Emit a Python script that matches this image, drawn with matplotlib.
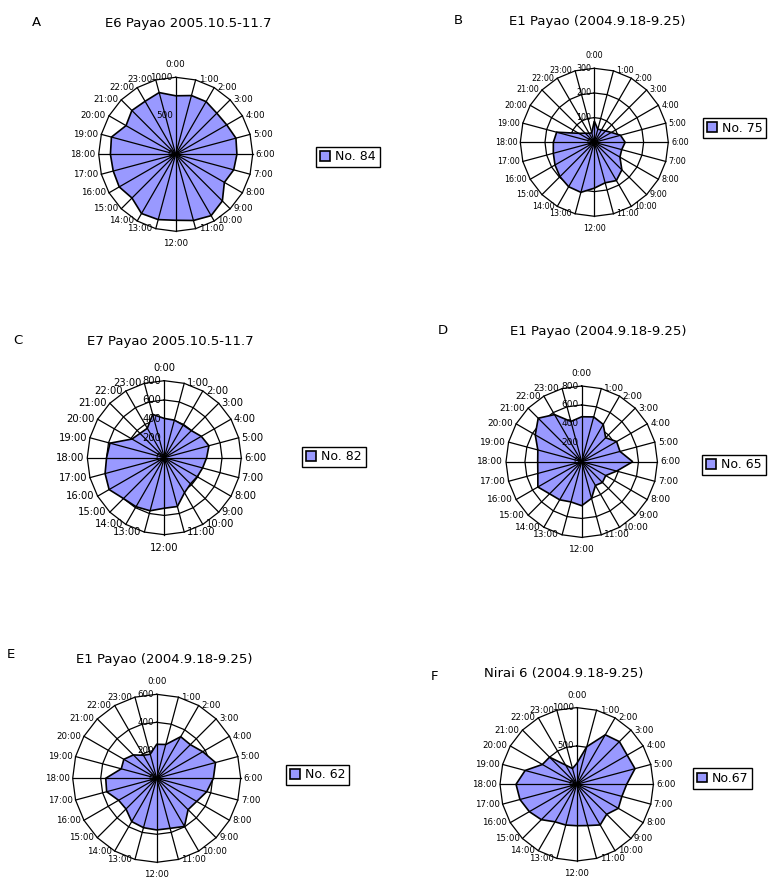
import numpy as np
import matplotlib
matplotlib.use("Agg")
import matplotlib.pyplot as plt

plt.rcParams['font.family'] = ['DejaVu Sans']

hours = [f"{h}:00" for h in range(24)]

# hourly values (0:00 .. 23:00)
a_vals = [760, 790, 790, 755, 765, 810, 795, 780, 730, 857, 920, 890,
          857, 878, 888, 803, 847, 840, 848, 864, 745, 805, 795, 830]
b_vals = [86, 55, 58, 65, 80, 110, 125, 115, 120, 158, 179, 170,
          186, 210, 208, 197, 184, 172, 166, 158, 73, 52, 42, 40]
c_vals = [408, 404, 392, 398, 444, 480, 440, 412, 395, 385, 420, 525,
          525, 571, 588, 600, 662, 637, 600, 584, 388, 357, 353, 466]
d_vals = [475, 490, 455, 358, 426, 419, 539, 383, 293, 310, 290, 401,
          465, 440, 465, 480, 535, 480, 465, 480, 567, 650, 575, 440]
e_vals = [243, 250, 343, 340, 380, 435, 405, 370, 330, 317, 397, 370,
          369, 365, 357, 310, 314, 370, 364, 262, 271, 236, 190, 178]
f_vals = [270, 508, 745, 787, 760, 787, 652, 610, 627, 553, 612, 557,
          540, 550, 565, 652, 713, 766, 791, 696, 517, 500, 290, 213]

letters = ["A", "B", "C", "D", "E", "F"]
titles = ["E6 Payao 2005.10.5-11.7", "E1 Payao (2004.9.18-9.25)",
          "E7 Payao 2005.10.5-11.7", "E1 Payao (2004.9.18-9.25)",
          "E1 Payao (2004.9.18-9.25)", "Nirai 6 (2004.9.18-9.25)"]
legend_labels = ["No. 84", "No. 75", "No. 82", "No. 65", "No. 62", "No.67"]

W, H = 772, 889
fig = plt.figure(figsize=(W / 100, H / 100), dpi=100)


def radar(cx, cy, rad, vals, rmax, step, label, fs, lx, ly):
    ax = fig.add_axes([(cx - rad) / W, 1 - (cy + rad) / H, 2 * rad / W, 2 * rad / H],
                      projection='polar')
    ax.set_theta_zero_location('N')
    ax.set_theta_direction(-1)
    ax.set_ylim(0, rmax)
    ax.grid(False)
    ax.set_xticks([])
    ax.set_yticks([])
    ax.spines['polar'].set_visible(False)
    ax.patch.set_visible(False)

    theta = np.arange(24) * 2 * np.pi / 24
    tc = np.append(theta, theta[0])
    for r in np.arange(step, rmax + step / 2, step):
        ax.plot(tc, [r] * 25, color='black', lw=0.9, zorder=1, clip_on=False)
    v = np.append(vals, vals[0])
    ax.fill(tc, v, facecolor='#9999ff', edgecolor='black', lw=1.2, zorder=2, label=label)
    for t in theta:
        ax.plot([t, t], [0, rmax], color='black', lw=0.9, zorder=3, clip_on=False)

    for t, h in zip(theta, hours):
        s, c = np.sin(t), np.cos(t)
        if abs(s) < 0.05:
            ha, va, off = 'center', ('bottom' if c > 0 else 'top'), (0, 8 * np.sign(c))
        else:
            ha, va, off = ('left' if s > 0 else 'right'), 'center', (3 * np.sign(s), 0)
        ax.annotate(h, (t, rmax), xytext=off, textcoords='offset pixels',
                    ha=ha, va=va, fontsize=fs, annotation_clip=False)
    for r in np.arange(0, rmax + step / 2, step):
        ax.annotate(f"{r:g}", (0, r), xytext=(-3, 0), textcoords='offset pixels',
                    ha='right', va='center', fontsize=fs, zorder=5, annotation_clip=False)

    leg = ax.legend(loc='center', bbox_to_anchor=(lx / W, 1 - ly / H),
                    bbox_transform=fig.transFigure, fancybox=False, edgecolor='black',
                    framealpha=1, handlelength=0.8, handleheight=0.8,
                    handletextpad=0.4, borderpad=0.3, fontsize=9)
    leg.get_frame().set_linewidth(1.0)
    return ax


radar(175.7, 154.3, 77, a_vals, 1000, 500, legend_labels[0], 6.3, 348, 157)
radar(594.3, 142.3, 74, b_vals, 300, 100, legend_labels[1], 5.8, 734.5, 128)
radar(164.3, 457.7, 77, c_vals, 800, 200, legend_labels[2], 7.2, 334, 457)
radar(581.7, 461.7, 75.7, d_vals, 800, 200, legend_labels[3], 6.5, 734, 465)
radar(156.7, 778.3, 84, e_vals, 600, 200, legend_labels[4], 6.2, 317.5, 775)
radar(576.7, 784.3, 76.7, f_vals, 1000, 500, legend_labels[5], 6.2, 722.5, 778.5)

letter_pos = [(36.7, 23), (458, 20), (18, 341), (443, 331), (11, 655), (435, 677)]
title_pos = [(188, 23), (597, 22), (170, 341), (598, 332), (164, 660), (564, 673)]
for l, (x, y) in zip(letters, letter_pos):
    fig.text(x / W, 1 - y / H, l, ha='center', va='center', fontsize=9.5)
for t, (x, y) in zip(titles, title_pos):
    fig.text(x / W, 1 - y / H, t, ha='center', va='center', fontsize=9.5)

fig.savefig("out.png", dpi=100)
